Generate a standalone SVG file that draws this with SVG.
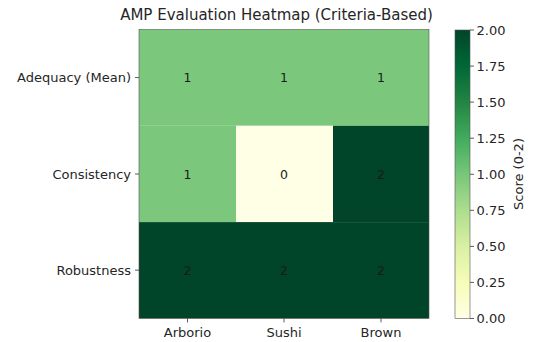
<svg xmlns="http://www.w3.org/2000/svg" width="534" height="342" viewBox="0 0 534 342">
<defs>
<linearGradient id="ylgn" x1="0" y1="1" x2="0" y2="0">
<stop offset="0" stop-color="#ffffe5"/>
<stop offset="0.125" stop-color="#f7fcb9"/>
<stop offset="0.25" stop-color="#d9f0a3"/>
<stop offset="0.375" stop-color="#addd8e"/>
<stop offset="0.5" stop-color="#78c679"/>
<stop offset="0.625" stop-color="#41ab5d"/>
<stop offset="0.75" stop-color="#238443"/>
<stop offset="0.875" stop-color="#006837"/>
<stop offset="1" stop-color="#004529"/>
</linearGradient>
</defs>
<style>
text{font-family:"DejaVu Sans",sans-serif;fill:#262626}
.t{font-size:13px}
.v{font-size:12.5px;fill:#1a1a1a;text-anchor:middle}
.tick{stroke:#333;stroke-width:0.8}
.c0{fill:#ffffe5}.c1{fill:#7bc87c}.c2{fill:#004529}
</style>
<rect width="534" height="342" fill="#fff"/>
<text x="276.5" y="20" style="font-size:15px" text-anchor="middle">AMP Evaluation Heatmap (Criteria-Based)</text>
<g id="cells">
<rect class="c1" x="139" y="29.5" width="97" height="96.3"/>
<rect class="c1" x="236" y="29.5" width="97" height="96.3"/>
<rect class="c1" x="333" y="29.5" width="96" height="96.3"/>
<rect class="c1" x="139" y="125.8" width="97" height="96.3"/>
<rect class="c0" x="236" y="125.8" width="97" height="96.3"/>
<rect class="c2" x="333" y="125.8" width="96" height="96.3"/>
<rect class="c2" x="139" y="222.1" width="97" height="96.3"/>
<rect class="c2" x="236" y="222.1" width="97" height="96.3"/>
<rect class="c2" x="333" y="222.1" width="96" height="96.3"/>
<rect x="139" y="29.5" width="290" height="288.9" fill="none" stroke="#555" stroke-width="0.6"/>
</g>
<g id="values">
<text class="v" x="187.5" y="82">1</text>
<text class="v" x="284" y="82">1</text>
<text class="v" x="381" y="82">1</text>
<text class="v" x="187.5" y="178.5">1</text>
<text class="v" x="284" y="178.5">0</text>
<text class="v" x="381" y="178.5">2</text>
<text class="v" x="187.5" y="275">2</text>
<text class="v" x="284" y="275">2</text>
<text class="v" x="381" y="275">2</text>
</g>
<g id="yaxis">
<line class="tick" x1="135" y1="77.6" x2="139" y2="77.6"/>
<line class="tick" x1="135" y1="174" x2="139" y2="174"/>
<line class="tick" x1="135" y1="270.2" x2="139" y2="270.2"/>
<text class="t" x="131" y="82.3" text-anchor="end">Adequacy (Mean)</text>
<text class="t" x="131" y="178.7" text-anchor="end">Consistency</text>
<text class="t" x="131" y="274.9" text-anchor="end">Robustness</text>
</g>
<g id="xaxis">
<line class="tick" x1="187.5" y1="318.4" x2="187.5" y2="322.4"/>
<line class="tick" x1="284" y1="318.4" x2="284" y2="322.4"/>
<line class="tick" x1="381" y1="318.4" x2="381" y2="322.4"/>
<text class="t" x="187.5" y="337" text-anchor="middle">Arborio</text>
<text class="t" x="284" y="337" text-anchor="middle">Sushi</text>
<text class="t" x="381" y="337" text-anchor="middle">Brown</text>
</g>
<g id="colorbar">
<rect x="455" y="30" width="15" height="288.5" fill="url(#ylgn)" stroke="#555" stroke-width="0.6"/>
<g class="tick">
<line x1="470" y1="30" x2="474" y2="30"/>
<line x1="470" y1="66.1" x2="474" y2="66.1"/>
<line x1="470" y1="102.1" x2="474" y2="102.1"/>
<line x1="470" y1="138.2" x2="474" y2="138.2"/>
<line x1="470" y1="174.3" x2="474" y2="174.3"/>
<line x1="470" y1="210.3" x2="474" y2="210.3"/>
<line x1="470" y1="246.4" x2="474" y2="246.4"/>
<line x1="470" y1="282.4" x2="474" y2="282.4"/>
<line x1="470" y1="318.5" x2="474" y2="318.5"/>
</g>
<text class="t" x="476.5" y="34.7">2.00</text>
<text class="t" x="476.5" y="70.8">1.75</text>
<text class="t" x="476.5" y="106.8">1.50</text>
<text class="t" x="476.5" y="142.9">1.25</text>
<text class="t" x="476.5" y="179">1.00</text>
<text class="t" x="476.5" y="215">0.75</text>
<text class="t" x="476.5" y="251.1">0.50</text>
<text class="t" x="476.5" y="287.1">0.25</text>
<text class="t" x="476.5" y="323.2">0.00</text>
<text class="t" x="0" y="0" text-anchor="middle" transform="translate(523,174) rotate(-90)">Score (0-2)</text>
</g>
</svg>
